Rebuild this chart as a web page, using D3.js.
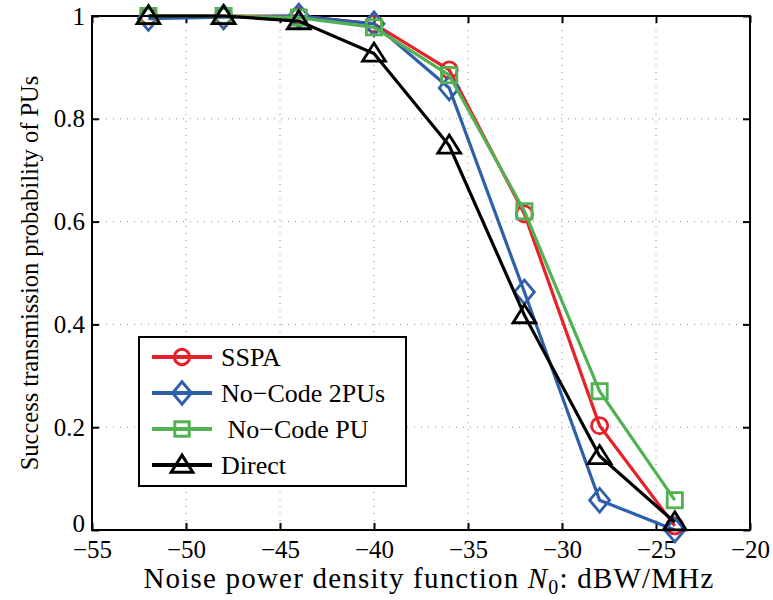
<!DOCTYPE html>
<html>
<head>
<meta charset="utf-8">
<script src="https://cdn.jsdelivr.net/npm/d3@7"></script>
<style>
  body { margin: 0; background: #fff; }
</style>
</head>
<body>
<div id="chart"></div>
<script>
// data
let noiseLevels = [-52, -48, -44, -40, -36, -32, -28, -24];
let sspa = [1, 1, 1, 0.985, 0.895, 0.615, 0.203, 0.008];
let noCode2PUs = [0.995, 0.998, 1, 0.985, 0.86, 0.463, 0.058, 0.0];
let noCodePU = [1, 1, 0.997, 0.978, 0.885, 0.62, 0.27, 0.058];
let direct = [1, 1, 0.99, 0.927, 0.748, 0.418, 0.144, 0.015];
let xTicks = [-55, -50, -45, -40, -35, -30, -25, -20];
let yTicks = [0, 0.2, 0.4, 0.6, 0.8, 1];

let series = [
  {name: 'SSPA', values: sspa, color: '#e8202a', marker: 'circle'},
  {name: 'No\u2212Code 2PUs', values: noCode2PUs, color: '#2f5faa', marker: 'diamond'},
  {name: '\u00a0No\u2212Code PU', values: noCodePU, color: '#52b152', marker: 'square'},
  {name: 'Direct', values: direct, color: '#000000', marker: 'triangle'}
];

let serif = 'Liberation Serif, DejaVu Serif, serif';

let width = 773, height = 600;
let margin = {top: 16, right: 23, bottom: 70, left: 92};
let plotW = width - margin.left - margin.right,
    plotH = height - margin.top - margin.bottom;

let svg = d3.select('#chart').append('svg')
    .attr('width', width)
    .attr('height', height)
    .attr('font-family', serif);

let g = svg.append('g')
    .attr('transform', 'translate(' + margin.left + ',' + margin.top + ')');

let x = d3.scaleLinear().domain([-55, -20]).range([0, plotW]);
let y = d3.scaleLinear().domain([0, 1]).range([plotH, 0]);

// dotted grid
g.append('g').selectAll('line')
    .data(xTicks.slice(1, -1))
  .enter().append('line')
    .attr('x1', d => x(d)).attr('x2', d => x(d))
    .attr('y1', 0).attr('y2', plotH)
    .attr('stroke', '#888').attr('stroke-width', 1)
    .attr('stroke-dasharray', '1,6');

g.append('g').selectAll('line')
    .data(yTicks.slice(1, -1))
  .enter().append('line')
    .attr('y1', d => y(d)).attr('y2', d => y(d))
    .attr('x1', 0).attr('x2', plotW)
    .attr('stroke', '#888').attr('stroke-width', 1)
    .attr('stroke-dasharray', '1,6');

// axes with inward ticks on all sides
let fmtY = d => d === 0 || d === 1 ? d3.format('d')(d) : d3.format('.1f')(d);
let fmtX = d => d3.format('d')(d).replace('-', '\u2212');

let xBottom = g.append('g').attr('transform', 'translate(0,' + plotH + ')')
    .call(d3.axisBottom(x).tickValues(xTicks).tickSize(-7).tickPadding(10).tickFormat(fmtX));
let xTop = g.append('g')
    .call(d3.axisTop(x).tickValues(xTicks).tickSize(-7).tickFormat(''));
let yLeft = g.append('g')
    .call(d3.axisLeft(y).tickValues(yTicks).tickSize(-7).tickPadding(7).tickFormat(fmtY));
let yRight = g.append('g').attr('transform', 'translate(' + plotW + ',0)')
    .call(d3.axisRight(y).tickValues(yTicks).tickSize(-7).tickFormat(''));

[xBottom, xTop, yLeft, yRight].forEach(function(a){
  a.attr('font-family', serif).attr('font-size', 25);
  a.select('.domain').remove();
  a.selectAll('line').attr('stroke', '#000').attr('stroke-width', 2);
  a.selectAll('text').attr('fill', '#000');
});
// lift the zero label a little, as in the figure
yLeft.selectAll('.tick').filter(d => d === 0).select('text').attr('dy', '0.05em');

g.append('rect')
    .attr('width', plotW).attr('height', plotH)
    .attr('fill', 'none').attr('stroke', '#000').attr('stroke-width', 2);

// lines and markers
let line = d3.line()
    .x((d, i) => x(noiseLevels[i]))
    .y(d => y(d));

function drawMarker(sel, type, color, s, sw) {
  if (type === 'circle') {
    sel.append('circle').attr('r', s * 0.85);
  } else if (type === 'diamond') {
    sel.append('path').attr('d', 'M0,' + (-s * 1.25) + 'L' + (s * 1.05) + ',0L0,' + (s * 1.25) + 'L' + (-s * 1.05) + ',0Z');
  } else if (type === 'square') {
    sel.append('rect').attr('x', -s * 0.8).attr('y', -s * 0.8).attr('width', s * 1.6).attr('height', s * 1.6);
  } else {
    sel.append('path').attr('d', 'M0,' + (-s * 1.1) + 'L' + (s * 1.2) + ',' + (s * 0.8) + 'L' + (-s * 1.2) + ',' + (s * 0.8) + 'Z');
  }
  sel.selectAll('*').attr('fill', 'none').attr('stroke', color).attr('stroke-width', sw);
}

series.forEach(function(s){
  let sg = g.append('g');
  sg.append('path')
      .datum(s.values)
      .attr('d', line)
      .attr('fill', 'none')
      .attr('stroke', s.color)
      .attr('stroke-width', 3.2);
  sg.selectAll('g.m')
      .data(s.values)
    .enter().append('g')
      .attr('class', 'm')
      .attr('transform', (d, i) => 'translate(' + x(noiseLevels[i]) + ',' + y(d) + ')')
      .each(function(){ drawMarker(d3.select(this), s.marker, s.color, 9.5, 2.8); });
});

// legend
let legend = g.append('g').attr('transform', 'translate(' + (139 - margin.left) + ',' + (337 - margin.top) + ')');
legend.append('rect')
    .attr('width', 267).attr('height', 149)
    .attr('fill', '#fff').attr('stroke', '#000').attr('stroke-width', 2);

series.forEach(function(s, i){
  let row = legend.append('g').attr('transform', 'translate(0,' + (20 + i * 36) + ')');
  row.append('line')
      .attr('x1', 13).attr('x2', 73)
      .attr('stroke', s.color).attr('stroke-width', 4);
  let m = row.append('g').attr('transform', 'translate(43,0)');
  drawMarker(m, s.marker, s.color, 9, 3);
  row.append('text')
      .attr('x', 82).attr('y', 9)
      .attr('font-size', 26)
      .attr('font-family', serif)
      .text(s.name);
});

// axis titles
svg.append('text')
    .attr('x', margin.left + plotW / 2 + 8)
    .attr('y', 588)
    .attr('text-anchor', 'middle')
    .attr('font-size', 29)
    .attr('letter-spacing', 1.2)
    .attr('font-family', serif)
    .html('Noise power density function <tspan font-style="italic">N</tspan><tspan font-size="20" dy="6">0</tspan><tspan dy="-6">: dBW/MHz</tspan>');

svg.append('text')
    .attr('transform', 'translate(38,' + (margin.top + plotH / 2) + ') rotate(-90)')
    .attr('text-anchor', 'middle')
    .attr('font-size', 24.5)
    .attr('font-family', serif)
    .text('Success transmission probability of PUs');
</script>
</body>
</html>
